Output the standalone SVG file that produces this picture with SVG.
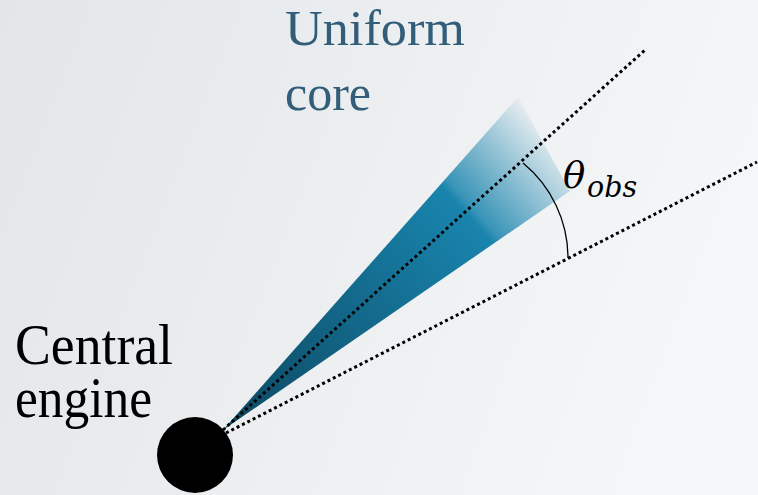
<svg xmlns="http://www.w3.org/2000/svg" width="758" height="495" viewBox="0 0 758 495">
<defs>
<linearGradient id="bg" x1="0" y1="0" x2="1" y2="0.25">
<stop offset="0" stop-color="#e2e6e9"/>
<stop offset="1" stop-color="#f5f6f7"/>
</linearGradient>
<linearGradient id="coneGrad" gradientUnits="userSpaceOnUse" x1="223" y1="430" x2="550" y2="136">
<stop offset="0" stop-color="#0c4760"/>
<stop offset="0.74" stop-color="#1984ad"/>
<stop offset="0.76" stop-color="#1984ad" stop-opacity="0.85"/>
<stop offset="1" stop-color="#1984ad" stop-opacity="0.05"/>
</linearGradient>
<style>
.dot{fill:none;stroke:#000;stroke-width:3;stroke-dasharray:3 3}
.lbl{font-family:"Liberation Serif",serif}
.math{font-family:"DejaVu Serif",serif;font-style:italic;fill:#000}
</style>
</defs>
<rect x="0" y="0" width="758" height="495" fill="url(#bg)"/>
<g id="cone">
<polygon points="223,430 518,97 570,191" fill="url(#coneGrad)"/>
</g>
<g id="connectors">
<line class="dot" x1="223" y1="430" x2="645" y2="50"/>
<line class="dot" x1="226" y1="433" x2="757" y2="162"/>
<path d="M523,163 A123,123 0 0 1 568,258" fill="none" stroke="#000" stroke-width="1.3"/>
</g>
<g id="engine">
<circle cx="195" cy="455" r="38" fill="#000"/>
<text class="lbl" x="15" y="364" font-size="56" fill="#000" textLength="158" lengthAdjust="spacingAndGlyphs">Central</text>
<text class="lbl" x="15" y="417" font-size="56" fill="#000" textLength="137" lengthAdjust="spacingAndGlyphs">engine</text>
</g>
<g id="core-label">
<text class="lbl" x="285" y="45" font-size="50" fill="#335e7a" textLength="180" lengthAdjust="spacingAndGlyphs">Uniform</text>
<text class="lbl" x="285" y="110" font-size="50" fill="#335e7a">core</text>
</g>
<g id="theta">
<text class="math" x="563" y="188" font-size="37">θ</text>
<text class="math" x="587" y="197" font-size="29" textLength="50" lengthAdjust="spacingAndGlyphs">obs</text>
</g>
</svg>
